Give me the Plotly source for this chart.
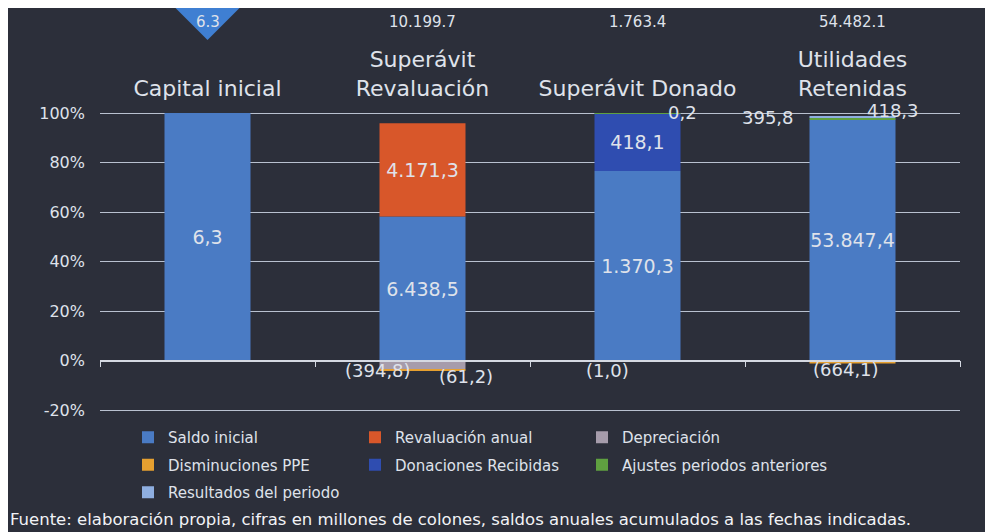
import plotly.graph_objects as go

# ---------------- data ----------------
categories = ["Capital inicial", "Superávit<br>Revaluación", "Superávit Donado", "Utilidades<br>Retenidas"]
series_names = ["Saldo inicial", "Revaluación anual", "Depreciación", "Disminuciones PPE",
                "Donaciones Recibidas", "Ajustes periodos anteriores", "Resultados del periodo"]
saldo_inicial = [6.3, 6438.5, 1370.3, 53847.4]
revaluacion_anual = [0, 4171.3, 0, 0]
depreciacion = [0, -394.8, -1.0, 0]
disminuciones_ppe = [0, -61.2, 0, -664.1]
donaciones_recibidas = [0, 0, 418.1, 0]
ajustes_periodos = [0, 0, 0.2, 395.8]
resultados_periodo = [0, 0, 0, 418.3]
totals = [6.3, 10199.7, 1763.4, 54482.1]
y_ticks = [-0.2, 0, 0.2, 0.4, 0.6, 0.8, 1.0]
y_tick_labels = ["-20%", "0%", "20%", "40%", "60%", "80%", "100%"]

series_values = [saldo_inicial, revaluacion_anual, depreciacion, disminuciones_ppe,
                 donaciones_recibidas, ajustes_periodos, resultados_periodo]

# ---------------- style ----------------
colors = ["#4a7bc4", "#d8572a", "#a69cab", "#e6a030", "#2f4db0", "#5fa040", "#8eaee0"]
# legend laid out as three columns
legend_ids = ["legend", "legend2", "legend3", "legend", "legend2", "legend3", "legend"]
BG = "#2c2f3a"
TXT = "#dfe2ea"
FONT = "DejaVu Sans"
# figure geometry in px (page has an 8 px body margin)
L, R, T, B, W, H = 92, 33, 103, 120, 985, 524
PW, PH = W - L - R, H - T - B
PAD = 2 / 247.5          # tiny range padding so the edge gridlines are drawn
Y0, Y1 = -0.2 - PAD, 1.0 + PAD


def py(fig_px):
    """figure pixel row -> paper y"""
    return (H - B - fig_px) / PH


# offsets (px) for the small labels placed beside the bars: (series index, category index)
small_offsets = {
    (5, 2): (45, 1), (2, 2): (-30, -10),
    (2, 1): (-45, -6), (3, 1): (43, -6),
    (5, 3): (-85, 1), (6, 3): (40, 6), (3, 3): (-7, -8),
}


def fmt(v):
    s = f"{abs(v):,.1f}".replace(",", "X").replace(".", ",").replace("X", ".")
    return f"({s})" if v < 0 else s


denoms = [sum(abs(s[i]) for s in series_values) for i in range(len(categories))]
pcts = [[s[i] / denoms[i] for i in range(len(categories))] for s in series_values]

fig = go.Figure()
annotations = []
pos_base = [0.0] * len(categories)
neg_base = [0.0] * len(categories)
for k, (name, vals) in enumerate(zip(series_names, series_values)):
    texts = []
    for i, v in enumerate(vals):
        p = pcts[k][i]
        if v == 0:
            texts.append("")
            continue
        if p >= 0:
            mid = pos_base[i] + p / 2
            pos_base[i] += p
        else:
            mid = neg_base[i] + p / 2
            neg_base[i] += p
        if abs(p) >= 0.05:
            texts.append(fmt(v))
        else:
            texts.append("")
            dx, dy = small_offsets.get((k, i), (0, 0))
            annotations.append(dict(x=categories[i], y=mid, xref="x", yref="y", text=fmt(v),
                                    showarrow=False, xshift=dx, yshift=dy,
                                    font=dict(family=FONT, size=18, color=TXT)))
    fig.add_trace(go.Bar(
        x=categories, y=pcts[k], name=name, marker=dict(color=colors[k], line=dict(width=0)),
        text=texts, textposition="inside", insidetextanchor="middle", textangle=0,
        constraintext="none",
        textfont=dict(family=FONT, size=19, color=TXT),
        legend=legend_ids[k], legendgroup=name,
        hoverinfo="skip", cliponaxis=False,
    ))

# invisible helper trace that carries the category axis drawn along 0 %
fig.add_trace(go.Scatter(
    x=categories, y=[0] * len(categories), xaxis="x2", mode="markers",
    marker=dict(opacity=0), showlegend=False, hoverinfo="skip",
))

# marker of the first total (blue down-triangle, drawn as an arrow head) and the totals
annotations.append(dict(x=categories[0], y=py(32), xref="x", yref="paper", text=" ",
                        showarrow=True, arrowhead=1, arrowwidth=2, arrowsize=5.5,
                        arrowcolor="#3f7fd2", ax=0, ay=-28, standoff=0,
                        font=dict(family=FONT, size=4, color=BG)))
for c, t in zip(categories, totals):
    annotations.append(dict(x=c, y=py(14), xref="x", yref="paper",
                            text=f"{t:,.1f}".replace(",", "."), showarrow=False, yanchor="middle",
                            font=dict(family=FONT, size=15, color=TXT)))

annotations.append(dict(
    text="Fuente: elaboración propia, cifras en millones de colones, saldos anuales acumulados a las fechas indicadas.",
    xref="paper", yref="paper", x=(0 - L) / PW, y=py(511), xanchor="left", yanchor="middle",
    showarrow=False, font=dict(family=FONT, size=16.5, color="#f2f3f6")))

legend_common = dict(orientation="v", xref="container", yref="container", xanchor="left",
                     yanchor="top", tracegroupgap=5, traceorder="grouped",
                     font=dict(family=FONT, size=15, color=TXT), bgcolor="rgba(0,0,0,0)")
legend_top = 1 - 413 / H

fig.update_layout(
    width=W, height=H,
    margin=dict(l=L, r=R, t=T, b=B, autoexpand=False),
    paper_bgcolor=BG, plot_bgcolor=BG,
    barmode="relative", bargap=0.6,
    font=dict(family=FONT, color=TXT),
    xaxis=dict(type="category", categoryorder="array", categoryarray=categories,
               range=[-0.5, len(categories) - 0.5], side="top", showline=False, ticks="",
               showgrid=False, ticklabelstandoff=10,
               tickfont=dict(family=FONT, size=22, color=TXT)),
    xaxis2=dict(type="category", categoryorder="array", categoryarray=categories,
                range=[-0.5, len(categories) - 0.5], overlaying="x", anchor="free",
                position=(0 - Y0) / (Y1 - Y0), side="bottom", showline=True, linecolor="#d5d9e2",
                linewidth=1.5, ticks="outside", ticklen=6, tickcolor="#d5d9e2",
                tickson="boundaries", showticklabels=False, showgrid=False),
    yaxis=dict(range=[Y0, Y1], tickvals=y_ticks, ticktext=y_tick_labels,
               showgrid=True, gridcolor="#b9c1cf", gridwidth=1, zeroline=False,
               tickfont=dict(family=FONT, size=16, color=TXT), ticks="", ticklabelstandoff=14),
    legend=dict(**legend_common, x=120 / W, y=legend_top),
    legend2=dict(**legend_common, x=347 / W, y=legend_top),
    legend3=dict(**legend_common, x=574 / W, y=legend_top),
    annotations=annotations,
    showlegend=True,
)

fig.write_html("out.html")
